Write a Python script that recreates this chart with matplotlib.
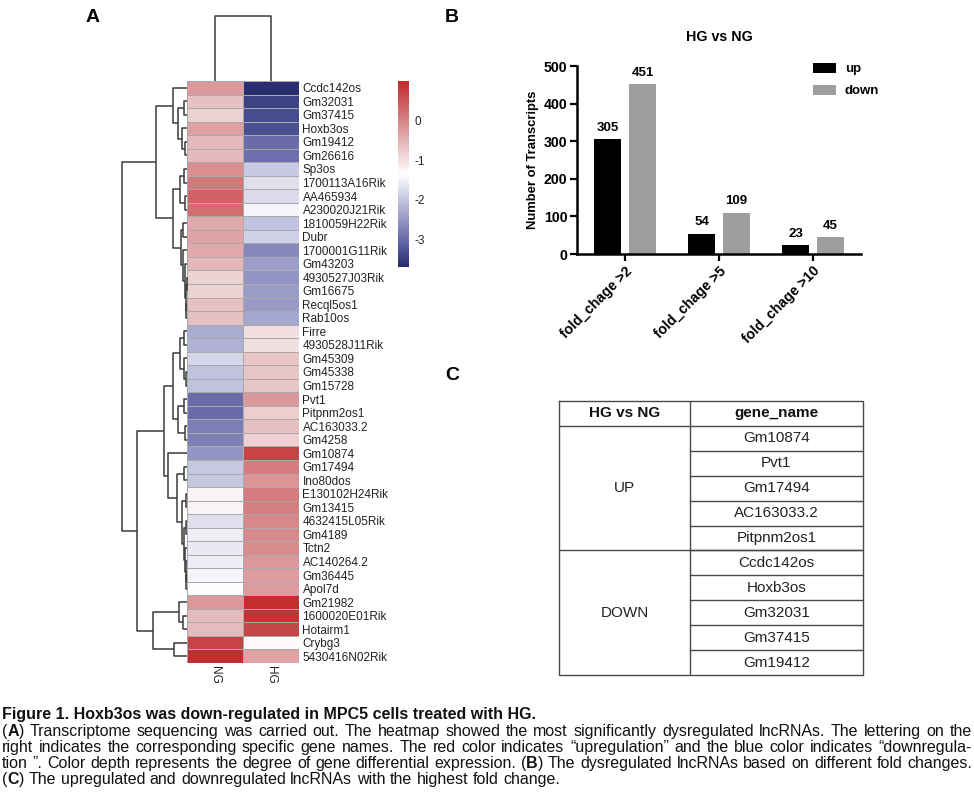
import matplotlib
matplotlib.use('Agg')
import matplotlib.pyplot as plt
import numpy as np
from matplotlib.colors import LinearSegmentedColormap

plt.rcParams['font.family'] = ['Liberation Sans', 'DejaVu Sans']
plt.rcParams['axes.unicode_minus'] = False

# ---------------- data ----------------
genes = ['Ccdc142os', 'Gm32031', 'Gm37415', 'Hoxb3os', 'Gm19412', 'Gm26616', 'Sp3os',
         '1700113A16Rik', 'AA465934', 'A230020J21Rik', '1810059H22Rik', 'Dubr',
         '1700001G11Rik', 'Gm43203', '4930527J03Rik', 'Gm16675', 'Recql5os1', 'Rab10os',
         'Firre', '4930528J11Rik', 'Gm45309', 'Gm45338', 'Gm15728', 'Pvt1', 'Pitpnm2os1',
         'AC163033.2', 'Gm4258', 'Gm10874', 'Gm17494', 'Ino80dos', 'E130102H24Rik',
         'Gm13415', '4632415L05Rik', 'Gm4189', 'Tctn2', 'AC140264.2', 'Gm36445', 'Apol7d',
         'Gm21982', '1600020E01Rik', 'Hotairm1', 'Crybg3', '5430416N02Rik']
ng_values = [-0.24, -0.65, -0.84, -0.29, -0.57, -0.58, -0.11, 0.13, 0.36, 0.23, -0.41, -0.34,
             -0.39, -0.55, -0.85, -0.85, -0.67, -0.67, -2.29, -2.22, -1.82, -2.03, -2.03,
             -2.99, -2.99, -2.79, -2.78, -2.53, -1.98, -1.98, -1.23, -1.23, -1.70, -1.55,
             -1.60, -1.55, -1.45, -1.37, -0.20, -0.61, -0.60, 0.70, 0.97]
hg_values = [-3.65, -3.45, -3.35, -3.30, -3.00, -2.95, -1.96, -1.70, -1.77, -1.45, -2.03, -1.87,
             -2.69, -2.45, -2.53, -2.46, -2.47, -2.34, -0.97, -0.99, -0.70, -0.69, -0.70,
             -0.20, -0.81, -0.67, -0.84, 0.70, 0.09, -0.18, 0.09, 0.07, -0.03, -0.05,
             -0.07, -0.20, -0.25, -0.25, 0.97, 0.90, 0.68, -1.28, -0.33]
samples = ['NG', 'HG']
scale_min, scale_max = -3.7, 1.0
cbar_ticks = [0, -1, -2, -3]

# row clustering tree: [left, right, merge height]; leaves are row indices
row_tree = [
    [[0, [[1, 2, 3], [3, [4, 5, 2], 5], 9], 14],
     [[[6, 7, 3], [8, 9, 2], 7],
      [[10, 11, 4], [12, [13, [[14, 15, 0.5], [16, 17, 0.8], 1.5], 2.5], 4], 6], 14], 31],
    [[[[[18, 19, 3], [20, [21, 22, 1.5], 3], 7], [[23, 24, 3], [25, 26, 2], 9], 14],
      [27, [[28, 29, 3],
            [[30, 31, 0.8], [[32, 33, 1.5], [34, [35, [36, 37, 0.8], 1.2], 2], 3], 5], 10], 19], 23],
     [[38, [39, 40, 3.7], 8], [41, 42, 13], 34], 50],
    65]
col_tree = [0, 1, 1.0]

categories = ['fold_chage >2', 'fold_chage >5', 'fold_chage >10']
up_counts = [305, 54, 23]
down_counts = [451, 109, 45]

table_header = ['HG vs NG', 'gene_name']
table_groups = ['UP', 'DOWN']
up_genes = ['Gm10874', 'Pvt1', 'Gm17494', 'AC163033.2', 'Pitpnm2os1']
down_genes = ['Ccdc142os', 'Hoxb3os', 'Gm32031', 'Gm37415', 'Gm19412']

caption_title = 'Figure 1. Hoxb3os was down-regulated in MPC5 cells treated with HG.'
caption_lines = [
    '(**A**) Transcriptome sequencing was carried out. The heatmap showed the most significantly dysregulated lncRNAs. The lettering on the',
    'right indicates the corresponding specific gene names. The red color indicates \u201cupregulation\u201d and the blue color indicates \u201cdownregula-',
    'tion \u201d. Color depth represents the degree of gene differential expression. (**B**) The dysregulated lncRNAs based on different fold changes.',
    '(**C**) The upregulated and downregulated lncRNAs with the highest fold change.',
]

# ---------------- figure ----------------
W, H = 974, 807
fig = plt.figure(figsize=(W / 100, H / 100), dpi=100)


def px_axes(x0, y0, x1, y1):
    return fig.add_axes([x0 / W, 1 - y1 / H, (x1 - x0) / W, (y1 - y0) / H])


cmap = LinearSegmentedColormap.from_list('nwf', [
    (0.0, '#242b6b'), (0.115, '#5a5ea0'), (0.245, '#9394c3'), (0.365, '#c6c7e1'),
    (0.5, '#ffffff'), (0.65, '#e6c0c2'), (0.745, '#db9799'), (0.935, '#c64546'),
    (1.0, '#c42a2b')])

# heatmap
data = np.column_stack([ng_values, hg_values])
axh = px_axes(187, 81, 299, 663)
mesh = axh.pcolormesh(data, cmap=cmap, vmin=scale_min, vmax=scale_max,
                      edgecolors='#a9a9a9', linewidth=0.7)
axh.set_xlim(0, 2)
axh.set_ylim(len(genes), 0)
axh.set_yticks(np.arange(len(genes)) + 0.5)
axh.set_yticklabels(genes, fontsize=8.5, color='#222222')
axh.yaxis.tick_right()
axh.set_xticks(np.arange(len(samples)) + 0.5)
axh.set_xticklabels(samples, rotation=270, fontsize=8.5, color='#222222')
axh.tick_params(length=0, pad=2.5)
for s in axh.spines.values():
    s.set_visible(False)


def draw_tree(ax, node, orient):
    if isinstance(node, int):
        return node + 0.5, 0.0
    l, r, h = node
    pl, hl = draw_tree(ax, l, orient)
    pr, hr = draw_tree(ax, r, orient)
    hs = [hl, h, h, hr]
    ps = [pl, pl, pr, pr]
    if orient == 'left':
        ax.plot(hs, ps, color='#3a3a3a', lw=1.1, clip_on=False, solid_capstyle='butt')
    else:
        ax.plot(ps, hs, color='#3a3a3a', lw=1.1, clip_on=False, solid_capstyle='butt')
    return (pl + pr) / 2, h


axd = px_axes(122, 81, 187, 663)
draw_tree(axd, row_tree, 'left')
axd.set_xlim(row_tree[2], 0)
axd.set_ylim(len(genes), 0)
axd.axis('off')

axc = px_axes(187, 16, 299, 81)
draw_tree(axc, col_tree, 'top')
axc.set_xlim(0, 2)
axc.set_ylim(0, col_tree[2])
axc.axis('off')

# colorbar
cax = px_axes(398, 81, 409, 267)
cb = fig.colorbar(mesh, cax=cax, ticks=cbar_ticks)
cb.outline.set_visible(False)
cax.tick_params(length=0, pad=4, labelsize=8.5, labelcolor='#222222')

# ---------------- bar chart ----------------
axb = px_axes(577, 66, 861, 254)
x = np.arange(len(categories))
w, off = 0.28, 0.186
b1 = axb.bar(x - off, up_counts, w, color='black', label='up')
b2 = axb.bar(x + off, down_counts, w, color='#9e9e9e', label='down')
for bars in (b1, b2):
    axb.bar_label(bars, fontsize=9.5, fontweight='bold', padding=4)
axb.set_xlim(-0.51, 2.51)
axb.set_ylim(0, 500)
axb.set_yticks(range(0, 501, 100))
axb.set_xticks(x)
axb.set_xticklabels(categories, rotation=45, ha='right', rotation_mode='anchor')
for lab in axb.get_xticklabels() + axb.get_yticklabels():
    lab.set_fontweight('bold')
    lab.set_fontsize(10.2)
axb.spines[['top', 'right']].set_visible(False)
axb.spines[['left', 'bottom']].set_linewidth(1.8)
axb.tick_params(width=1.6, length=5, pad=2)
axb.set_ylabel('Number of Transcripts', fontsize=9.4, fontweight='bold', labelpad=3)
axb.set_title('HG vs NG', fontsize=10.3, fontweight='bold', pad=18)
axb.legend(loc='upper left', bbox_to_anchor=(0.79, 1.08), frameon=False,
           prop={'weight': 'bold', 'size': 9.5}, handlelength=1.7, handleheight=0.8,
           labelspacing=0.7, handletextpad=0.7)

# ---------------- table ----------------
axt = px_axes(559, 401, 863, 675)
n_rows = 1 + len(up_genes) + len(down_genes)
axt.set_xlim(0, 1)
axt.set_ylim(n_rows, 0)
axt.axis('off')
xdiv = (690 - 559) / (863 - 559)
lc, lw = '#4a4a4a', 1.0
axt.plot([0, 1, 1, 0, 0], [0, 0, n_rows, n_rows, 0], color=lc, lw=lw, clip_on=False)
axt.plot([xdiv, xdiv], [0, n_rows], color=lc, lw=lw)
axt.plot([0, 1], [1, 1], color=lc, lw=lw)
axt.plot([0, 1], [1 + len(up_genes)] * 2, color=lc, lw=lw)
for i in range(1, len(up_genes) + len(down_genes)):
    axt.plot([xdiv, 1], [1 + i, 1 + i], color=lc, lw=lw)
tfs = 11
axt.text(xdiv / 2, 0.5, table_header[0], ha='center', va='center', fontsize=tfs,
         fontweight='bold', color='#111111')
axt.text((xdiv + 1) / 2, 0.5, table_header[1], ha='center', va='center', fontsize=tfs,
         fontweight='bold', color='#111111')
axt.text(xdiv / 2, 1 + len(up_genes) / 2, table_groups[0], ha='center', va='center',
         fontsize=tfs, color='#222222')
axt.text(xdiv / 2, 1 + len(up_genes) + len(down_genes) / 2, table_groups[1], ha='center',
         va='center', fontsize=tfs, color='#222222')
for i, g in enumerate(up_genes + down_genes):
    axt.text((xdiv + 1) / 2, 1.5 + i, g, ha='center', va='center', fontsize=tfs,
             color='#222222')

# panel letters
for lab, (px, py) in {'A': (93, 18), 'B': (452, 17), 'C': (452, 375)}.items():
    fig.text(px / W, 1 - py / H, lab, ha='center', va='center', fontsize=14,
             fontweight='bold')

# ---------------- caption ----------------
renderer = fig.canvas.get_renderer()
cap_family = ['Liberation Sans', 'DejaVu Sans']


def parse_words(line):
    words = []
    for wtxt in line.split(' '):
        segs = []
        parts = wtxt.split('**')
        for k, p in enumerate(parts):
            if p:
                segs.append((p, k % 2 == 1))
        words.append(segs)
    return words


def seg_width(txt, bold, size):
    t = fig.text(0, 0, txt, fontsize=size, fontweight='bold' if bold else 'normal',
                 family=cap_family)
    wd = t.get_window_extent(renderer).width
    t.remove()
    return wd


def word_width(segs, size):
    return sum(seg_width(t, b, size) for t, b in segs)


def line_natural(words, size):
    sp = seg_width('a a', False, size) - seg_width('aa', False, size)
    return sum(word_width(wd, size) for wd in words) + sp * (len(words) - 1)


ref = 10.0
last_words = parse_words(caption_lines[-1])
size = ref * 563 / line_natural(last_words, ref)
for ln in caption_lines[:-1]:
    nat = line_natural(parse_words(ln), size)
    if nat > 968:
        size *= 968 / nat

baselines = [736, 752, 768, 784]
x_left, x_right = 2, 972


def draw_words(words, ybase, justify):
    widths = [word_width(wd, size) for wd in words]
    sp = seg_width('a a', False, size) - seg_width('aa', False, size)
    gap = (x_right - x_left - sum(widths)) / (len(words) - 1) if justify else sp
    xp = x_left
    for wd, ww in zip(words, widths):
        xx = xp
        for t, b in wd:
            fig.text(xx / W, 1 - ybase / H, t, fontsize=size, va='baseline', ha='left',
                     fontweight='bold' if b else 'normal', family=cap_family,
                     color='#111111')
            xx += seg_width(t, b, size)
        xp += ww + gap


fig.text(x_left / W, 1 - 719 / H, caption_title, fontsize=size, fontweight='bold',
         va='baseline', ha='left', family=cap_family, color='#111111')
for i, ln in enumerate(caption_lines):
    draw_words(parse_words(ln), baselines[i], justify=(i < len(caption_lines) - 1))

fig.savefig('out.png', dpi=100)
